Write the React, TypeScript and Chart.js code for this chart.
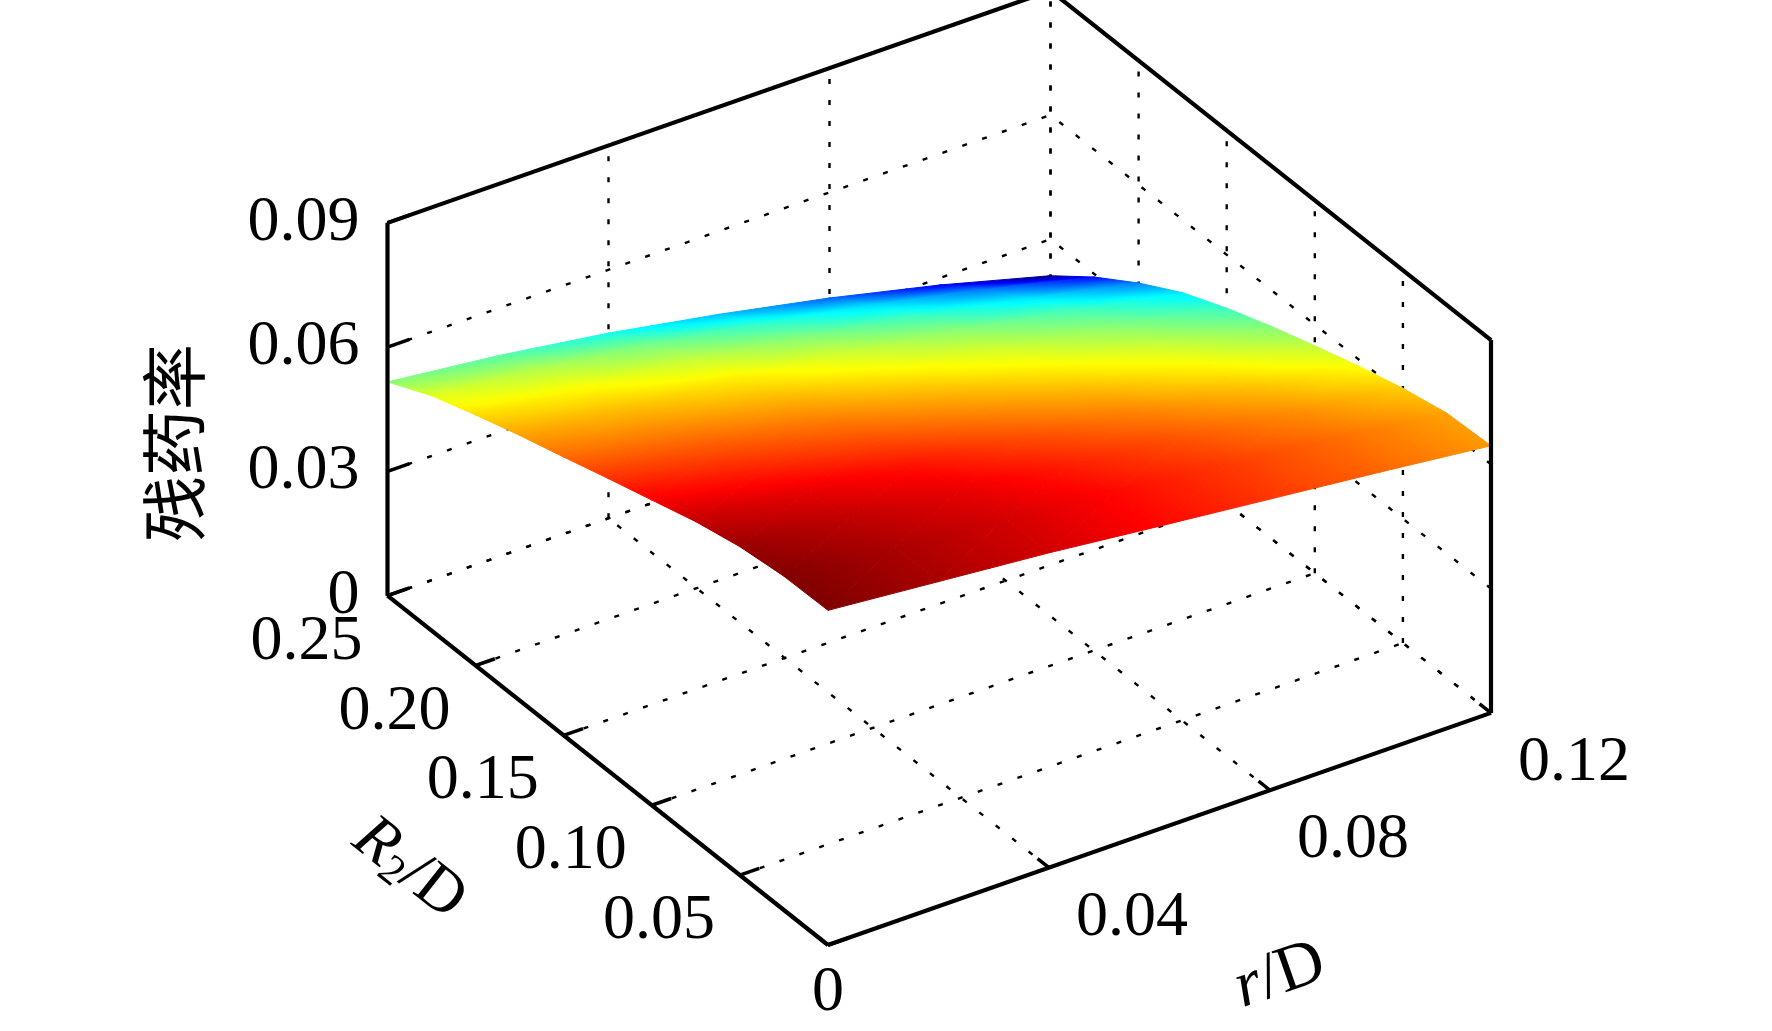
import { useEffect, useRef } from "react";
import { Chart, registerables } from "chart.js";
import type { Plugin } from "chart.js";

Chart.register(...registerables);

// surface samples: one row per R2/D value, one column per r/D value
const R_VALUES = [0, 0.02, 0.04, 0.06, 0.08, 0.1, 0.12];
const R2_VALUES = [0, 0.025, 0.05, 0.075, 0.1, 0.125, 0.15, 0.175, 0.2, 0.225, 0.25];
const RESIDUAL_RATE = [
  [0.0808, 0.0784, 0.076, 0.0731, 0.0703, 0.0675, 0.0645],
  [0.0806, 0.0783, 0.0759, 0.073, 0.0701, 0.0671, 0.0639],
  [0.0793, 0.077, 0.0745, 0.0715, 0.0684, 0.0651, 0.0615],
  [0.0769, 0.0747, 0.0722, 0.069, 0.0658, 0.0623, 0.0584],
  [0.0737, 0.0716, 0.0691, 0.066, 0.0627, 0.059, 0.0549],
  [0.0705, 0.0685, 0.066, 0.0628, 0.0594, 0.0556, 0.0512],
  [0.0672, 0.0652, 0.0627, 0.0594, 0.0559, 0.0518, 0.0471],
  [0.064, 0.0619, 0.0593, 0.0558, 0.0519, 0.0475, 0.0424],
  [0.0605, 0.0582, 0.0552, 0.0513, 0.047, 0.042, 0.0363],
  [0.0567, 0.054, 0.0505, 0.0462, 0.0413, 0.0357, 0.0293],
  [0.0516, 0.0486, 0.0447, 0.0399, 0.0345, 0.0283, 0.0212],
];

const R_TICKS = [0, 0.04, 0.08, 0.12];
const R_TICK_LABELS = ["0", "0.04", "0.08", "0.12"];
const R2_TICKS = [0, 0.05, 0.1, 0.15, 0.2, 0.25];
const R2_TICK_LABELS = ["0", "0.05", "0.10", "0.15", "0.20", "0.25"];
const Z_TICKS = [0, 0.03, 0.06, 0.09];
const Z_TICK_LABELS = ["0", "0.03", "0.06", "0.09"];

const R_RANGE = [0, 0.12];
const R2_RANGE = [0, 0.25];
const Z_RANGE = [0, 0.09];

const WIDTH = 1772;
const HEIGHT = 1031;

// orthographic camera for the plot box
const VIEW = { az: -33.6, el: 31.8, scale: 796, zAspect: 0.551, originX: 828, originY: 945 };

const SERIF = '"Liberation Serif", "Times New Roman", serif';
const CJK = '"Noto Sans CJK SC", sans-serif';

type Pt = { x: number; y: number };

function project(r: number, r2: number, z: number): Pt {
  const az = (VIEW.az * Math.PI) / 180;
  const el = (VIEW.el * Math.PI) / 180;
  const u = (r - R_RANGE[0]) / (R_RANGE[1] - R_RANGE[0]);
  const v = (r2 - R2_RANGE[0]) / (R2_RANGE[1] - R2_RANGE[0]);
  const w = ((z - Z_RANGE[0]) / (Z_RANGE[1] - Z_RANGE[0])) * VIEW.zAspect;
  return {
    x: VIEW.originX + VIEW.scale * (Math.cos(az) * u + Math.sin(az) * v),
    y:
      VIEW.originY -
      VIEW.scale * (-Math.sin(el) * Math.sin(az) * u + Math.sin(el) * Math.cos(az) * v + Math.cos(el) * w),
  };
}

const allZ = RESIDUAL_RATE.flat();
const Z_MIN = Math.min(...allZ);
const Z_MAX = Math.max(...allZ);

function jet(z: number) {
  const t = Math.min(1, Math.max(0, (z - Z_MIN) / (Z_MAX - Z_MIN)));
  const c = (d: number) => Math.round(255 * Math.min(1, Math.max(0, 1.5 - Math.abs(4 * t - d))));
  return `rgb(${c(3)},${c(2)},${c(1)})`;
}

function drawTriangle(ctx: CanvasRenderingContext2D, p: Pt[], z: number[]) {
  const [a, b, c] = p;
  const det = (b.x - a.x) * (c.y - a.y) - (c.x - a.x) * (b.y - a.y);
  if (Math.abs(det) < 1e-9) return;
  const gx = ((z[1] - z[0]) * (c.y - a.y) - (z[2] - z[0]) * (b.y - a.y)) / det;
  const gy = ((z[2] - z[0]) * (b.x - a.x) - (z[1] - z[0]) * (c.x - a.x)) / det;
  const g2 = gx * gx + gy * gy;
  const lo = Math.min(...z);
  const hi = Math.max(...z);
  let style: string | CanvasGradient = jet(z[0]);
  if (g2 > 1e-16 && hi - lo > 1e-9) {
    const s0 = (lo - z[0]) / g2;
    const s1 = (hi - z[0]) / g2;
    const grad = ctx.createLinearGradient(a.x + gx * s0, a.y + gy * s0, a.x + gx * s1, a.y + gy * s1);
    for (let k = 0; k <= 8; k++) grad.addColorStop(k / 8, jet(lo + (k / 8) * (hi - lo)));
    style = grad;
  }
  ctx.beginPath();
  ctx.moveTo(a.x, a.y);
  ctx.lineTo(b.x, b.y);
  ctx.lineTo(c.x, c.y);
  ctx.closePath();
  ctx.fillStyle = style;
  ctx.strokeStyle = style;
  ctx.lineWidth = 1;
  ctx.fill();
  ctx.stroke();
}

type Part = { text: string; font: string; dy?: number };

function drawRich(ctx: CanvasRenderingContext2D, parts: Part[], cx: number, cy: number, angle: number) {
  ctx.save();
  ctx.translate(cx, cy);
  ctx.rotate((angle * Math.PI) / 180);
  ctx.fillStyle = "#000";
  ctx.textBaseline = "middle";
  ctx.textAlign = "left";
  let total = 0;
  const widths = parts.map((part) => {
    ctx.font = part.font;
    const w = ctx.measureText(part.text).width;
    total += w;
    return w;
  });
  let x = -total / 2;
  parts.forEach((part, i) => {
    ctx.font = part.font;
    ctx.fillText(part.text, x, part.dy ?? 0);
    x += widths[i];
  });
  ctx.restore();
}

const surfacePlugin: Plugin<"scatter"> = {
  id: "surface3d",
  beforeDatasetDraw(chart, args) {
    if (chart.data.datasets[args.index].label !== "surface") return;
    const pts = args.meta.data as unknown as Pt[];
    const ctx = chart.ctx;
    const n = R_VALUES.length;
    ctx.save();
    for (let j = 0; j < R2_VALUES.length - 1; j++) {
      for (let i = 0; i < n - 1; i++) {
        const k00 = j * n + i;
        const k10 = k00 + 1;
        const k01 = k00 + n;
        const k11 = k01 + 1;
        const z00 = RESIDUAL_RATE[j][i];
        const z10 = RESIDUAL_RATE[j][i + 1];
        const z01 = RESIDUAL_RATE[j + 1][i];
        const z11 = RESIDUAL_RATE[j + 1][i + 1];
        drawTriangle(ctx, [pts[k00], pts[k10], pts[k11]], [z00, z10, z11]);
        drawTriangle(ctx, [pts[k00], pts[k11], pts[k01]], [z00, z11, z01]);
      }
    }
    ctx.restore();
  },
  afterDraw(chart) {
    const ctx = chart.ctx;
    const toPx = (p: Pt) => ({
      x: chart.scales.x.getPixelForValue(p.x),
      y: chart.scales.y.getPixelForValue(p.y),
    });
    ctx.save();
    ctx.fillStyle = "#000";
    ctx.font = `64px ${SERIF}`;
    ctx.textBaseline = "alphabetic";

    ctx.textAlign = "right";
    Z_TICKS.forEach((z, i) => {
      const p = toPx(project(R_RANGE[0], R2_RANGE[1], z));
      ctx.fillText(Z_TICK_LABELS[i], p.x - 28, p.y + 17);
    });

    ctx.textAlign = "center";
    R2_TICKS.forEach((r2, i) => {
      if (r2 === R2_RANGE[0]) return;
      const p = toPx(project(R_RANGE[0], r2, Z_RANGE[0]));
      ctx.fillText(R2_TICK_LABELS[i], p.x - 81, p.y + 63);
    });

    R_TICKS.forEach((r, i) => {
      const p = toPx(project(r, R2_RANGE[0], Z_RANGE[0]));
      if (r === R_RANGE[0]) {
        ctx.textAlign = "center";
        ctx.fillText(R_TICK_LABELS[i], p.x, p.y + 65);
      } else {
        ctx.textAlign = "left";
        ctx.fillText(R_TICK_LABELS[i], p.x + 27, p.y + 67);
      }
    });
    ctx.restore();

    drawRich(ctx, [{ text: "残药率", font: `66px ${CJK}` }], 174, 443, -90);
    drawRich(
      ctx,
      [
        { text: "R", font: `italic 64px ${SERIF}` },
        { text: "2", font: `42px ${SERIF}`, dy: 14 },
        { text: "/D", font: `64px ${SERIF}` },
      ],
      409,
      869,
      38.4,
    );
    drawRich(
      ctx,
      [
        { text: "r", font: `italic 66px ${SERIF}` },
        { text: "/D", font: `66px ${SERIF}` },
      ],
      1280,
      976,
      -19.3,
    );
  },
};

function segment(a: Pt, b: Pt, style: Record<string, unknown>) {
  return { label: "line", data: [a, b], showLine: true, pointRadius: 0, borderColor: "#000", ...style };
}

function buildDatasets() {
  const [r0, r1] = R_RANGE;
  const [s0, s1] = R2_RANGE;
  const [z0, z1] = Z_RANGE;
  const dotted = { borderWidth: 2.4, borderDash: [5, 16], order: 3 };
  const solid = { borderWidth: 4.2, order: 1 };
  const tick = { borderWidth: 3.5, order: 1 };

  const grid: ReturnType<typeof segment>[] = [];
  R_TICKS.forEach((r) => {
    grid.push(segment(project(r, s0, z0), project(r, s1, z0), dotted));
    grid.push(segment(project(r, s1, z0), project(r, s1, z1), dotted));
  });
  R2_TICKS.forEach((s) => {
    grid.push(segment(project(r0, s, z0), project(r1, s, z0), dotted));
    grid.push(segment(project(r1, s, z0), project(r1, s, z1), dotted));
  });
  Z_TICKS.forEach((z) => {
    grid.push(segment(project(r0, s1, z), project(r1, s1, z), dotted));
    grid.push(segment(project(r1, s0, z), project(r1, s1, z), dotted));
  });

  const box = [
    segment(project(r0, s1, z0), project(r0, s1, z1), solid),
    segment(project(r0, s1, z1), project(r1, s1, z1), solid),
    segment(project(r1, s1, z1), project(r1, s0, z1), solid),
    segment(project(r1, s0, z1), project(r1, s0, z0), solid),
    segment(project(r0, s1, z0), project(r0, s0, z0), solid),
    segment(project(r0, s0, z0), project(r1, s0, z0), solid),
  ];

  const ticks: ReturnType<typeof segment>[] = [];
  Z_TICKS.forEach((z) => ticks.push(segment(project(r0, s1, z), project(r0 + 0.004, s1, z), tick)));
  R2_TICKS.forEach((s) => ticks.push(segment(project(r0, s, z0), project(r0 + 0.0035, s, z0), tick)));
  R_TICKS.forEach((r) => ticks.push(segment(project(r, s0, z0), project(r, s0 + 0.0065, z0), tick)));

  const vertices: Pt[] = [];
  R2_VALUES.forEach((s, j) => {
    R_VALUES.forEach((r, i) => vertices.push(project(r, s, RESIDUAL_RATE[j][i])));
  });
  const surface = { label: "surface", data: vertices, showLine: false, pointRadius: 0, order: 2 };

  return [...box, ...ticks, surface, ...grid];
}

export default function App() {
  const canvasRef = useRef<HTMLCanvasElement>(null);

  useEffect(() => {
    const chart = new Chart(canvasRef.current!, {
      type: "scatter",
      data: { datasets: buildDatasets() as any },
      options: {
        animation: false,
        responsive: true,
        maintainAspectRatio: false,
        events: [],
        layout: { padding: 0 },
        plugins: { legend: { display: false }, tooltip: { enabled: false } },
        scales: {
          x: { type: "linear", min: 0, max: WIDTH, display: false },
          y: { type: "linear", min: 0, max: HEIGHT, reverse: true, display: false },
        },
      },
      plugins: [surfacePlugin],
    });

    return () => chart.destroy();
  }, []);

  return (
    <div style={{ position: "fixed", left: 0, top: 0, width: WIDTH, height: HEIGHT, background: "#fff" }}>
      <canvas ref={canvasRef}></canvas>
    </div>
  );
}
